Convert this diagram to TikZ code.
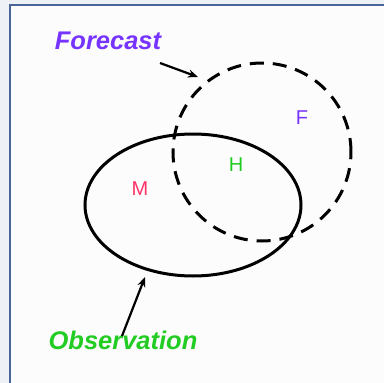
\documentclass[tikz,border=0pt]{standalone}
\usepackage{fontspec}
\setmainfont{Liberation Sans}
\usetikzlibrary{shapes.geometric,arrows.meta}
\definecolor{framecol}{HTML}{4A6699}
\definecolor{outcol}{HTML}{EEF2F7}
\definecolor{fcol}{HTML}{7733FF}
\definecolor{ocol}{HTML}{22CC22}
\definecolor{mcol}{HTML}{FF3366}
\tikzset{
  biglabel/.style={font=\fontsize{25.5}{30}\selectfont\bfseries\itshape, inner sep=0pt},
  smalllabel/.style={font=\fontsize{20}{24}\selectfont, inner sep=0pt},
  shapeline/.style={draw=black, line width=3pt, inner sep=0pt},
  pointer/.style={-{Stealth[length=10pt,width=8pt]}, line width=2.2pt},
}
\begin{document}
\begin{tikzpicture}[x=1pt,y=-1pt]
\useasboundingbox (0,0) rectangle (384,383);
\fill[outcol] (0,0) rectangle (384,383);
\fill[white!99!black] (10,5) rectangle (384,383);
\draw[framecol, line width=2.4pt] (10,383) -- (10,5) -- (384,5);
\node[shapeline, ellipse, minimum width=216pt, minimum height=142pt] (obs) at (193,205) {};
\node[shapeline, circle, dash pattern=on 14pt off 9pt, minimum size=178pt] (fc) at (262,152) {};
\node[biglabel, text=fcol] (ftxt) at (108,41) {Forecast};
\node[biglabel, text=ocol] (otxt) at (123,340) {Observation};
\node[smalllabel, text=fcol] (flab) at (302,118) {F};
\node[smalllabel, text=ocol] (hlab) at (236,165) {H};
\node[smalllabel, text=mcol] (mlab) at (140,189) {M};
\coordinate (fs) at (160,63);
\coordinate (fe) at (198,77);
\coordinate (os) at (122,336);
\coordinate (oe) at (145,277);
\draw[pointer] (fs) -- (fe);
\draw[pointer] (os) -- (oe);
\end{tikzpicture}
\end{document}
